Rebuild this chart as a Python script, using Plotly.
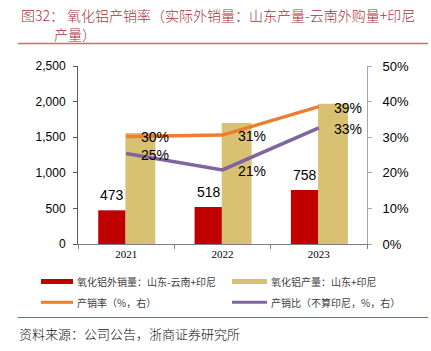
import plotly.graph_objects as go

# ---------------- data ----------------
years = ["2021", "2022", "2023"]
external_sales = [473, 518, 758]          # 氧化铝外销量：山东-云南+印尼
production = [1560, 1700, 1970]           # 氧化铝产量：山东+印尼
sales_rate = [0.302, 0.306, 0.386]        # 产销率（%，右）
sales_ratio = [0.254, 0.208, 0.326]       # 产销比（不算印尼，%，右）
left_ticks = [0, 500, 1000, 1500, 2000, 2500]
right_ticks = [0, 0.1, 0.2, 0.3, 0.4, 0.5]

title_line1 = "图32： 氧化铝产销率（实际外销量：山东产量-云南外购量+印尼"
title_line2 = "产量）"
source_text = "资料来源：公司公告，浙商证券研究所"
legend_names = ["氧化铝外销量：山东-云南+印尼", "氧化铝产量：山东+印尼",
                "产销率（%，右）", "产销比（不算印尼，%，右）"]

# ---------------- layout geometry ----------------
W, H = 431, 351
L, R, T, B = 78, 64, 66, 107
pw = W - L - R
ph = H - T - B


def px(x):
    return (x - L) / pw


def py(y):
    return (H - B - y) / ph


RED = "#C00000"
GOLD = "#D8C172"
ORANGE = "#ED7D31"
PURPLE = "#8064A2"
CJK = "Noto Sans CJK SC"

fig = go.Figure()
fig.add_trace(go.Bar(x=years, y=external_sales, marker=dict(color=RED, line=dict(width=0)),
                     width=0.285, offset=-0.29, showlegend=False, hoverinfo="skip"))
fig.add_trace(go.Bar(x=years, y=production, marker=dict(color=GOLD, line=dict(width=0)),
                     width=0.31, offset=-0.008, showlegend=False, hoverinfo="skip"))
fig.add_trace(go.Scatter(x=years, y=sales_rate, mode="lines", yaxis="y2",
                         line=dict(color=ORANGE, width=3.5), showlegend=False))
fig.add_trace(go.Scatter(x=years, y=sales_ratio, mode="lines", yaxis="y2",
                         line=dict(color=PURPLE, width=3.5), showlegend=False))

annotations = []
# bar value labels (x given as category index)
for i, v in enumerate(external_sales):
    annotations.append(dict(x=i, y=v, xref="x", yref="y", text=f"{v:,}", showarrow=False,
                            xshift=-14, yshift=15, yanchor="middle", xanchor="center",
                            font=dict(family="Liberation Sans", size=14, color="#000")))
# line value labels
for series in (sales_rate, sales_ratio):
    for i, v in enumerate(series):
        annotations.append(dict(x=i, y=v, xref="x", yref="y2", text=f"{v:.0%}", showarrow=False,
                                xshift=13, yshift=-1, yanchor="middle", xanchor="left",
                                font=dict(family="Liberation Sans", size=14, color="#000")))

# title
annotations.append(dict(x=px(19), y=py(15), xref="paper", yref="paper", text=title_line1,
                        showarrow=False, xanchor="left", yanchor="middle",
                        font=dict(family=CJK, size=14, color="#A8323C", weight=300)))
annotations.append(dict(x=px(52), y=py(34), xref="paper", yref="paper", text=title_line2,
                        showarrow=False, xanchor="left", yanchor="middle",
                        font=dict(family=CJK, size=14, color="#A8323C", weight=300)))
# source
annotations.append(dict(x=px(17), y=py(333), xref="paper", yref="paper", text=source_text,
                        showarrow=False, xanchor="left", yanchor="middle",
                        font=dict(family=CJK, size=13, color="#111", weight=300)))

# custom legend
leg_pos = [(76, 281.5), (270, 281.5), (76, 302), (270, 302)]
for (lx, ly), name in zip(leg_pos, legend_names):
    annotations.append(dict(x=px(lx - 1), y=py(ly), xref="paper", yref="paper", text=name,
                            showarrow=False, xanchor="left", yanchor="middle",
                            font=dict(family=CJK, size=10, color="#404040")))

shapes = [
    dict(type="line", xref="paper", yref="paper", x0=px(18), x1=px(428), y0=py(43.5), y1=py(43.5),
         line=dict(color="#D66A6A", width=1.5)),
    dict(type="line", xref="paper", yref="paper", x0=px(18), x1=px(428), y0=py(317.5), y1=py(317.5),
         line=dict(color="#C0504D", width=1)),
    dict(type="rect", xref="paper", yref="paper", x0=px(41), x1=px(73), y0=py(284), y1=py(279),
         fillcolor=RED, line=dict(width=0)),
    dict(type="rect", xref="paper", yref="paper", x0=px(232), x1=px(267), y0=py(284), y1=py(279),
         fillcolor=GOLD, line=dict(width=0)),
    dict(type="line", xref="paper", yref="paper", x0=px(41), x1=px(73), y0=py(302.3), y1=py(302.3),
         line=dict(color=ORANGE, width=3)),
    dict(type="line", xref="paper", yref="paper", x0=px(232), x1=px(267), y0=py(302.3), y1=py(302.3),
         line=dict(color=PURPLE, width=3)),
]

fig.update_layout(
    width=W, height=H,
    margin=dict(l=L, r=R, t=T, b=B, pad=0),
    paper_bgcolor="white", plot_bgcolor="white",
    barmode="overlay",
    showlegend=False,
    font=dict(family=CJK, color="#000"),
    xaxis=dict(type="category", range=[-0.5, 2.5], tickson="boundaries", ticks="outside",
               ticklen=4, tickcolor="#7F7F7F", showline=True, linecolor="#7F7F7F", linewidth=1,
               showgrid=False, zeroline=False,
               tickfont=dict(family="Liberation Serif", size=11, color="#000")),
    yaxis=dict(range=[0, 2500], tickvals=left_ticks, tickformat=",", ticks="outside", ticklen=4,
               tickcolor="#595959", showline=True, linecolor="#595959", linewidth=1,
               showgrid=False, zeroline=False, ticklabelstandoff=5,
               tickfont=dict(family="Liberation Sans", size=12, color="#000")),
    yaxis2=dict(range=[0, 0.5], overlaying="y", side="right", tickvals=right_ticks,
                tickformat=".0%", ticks="outside", ticklen=4, tickcolor="#A6A6A6",
                showline=True, linecolor="#A6A6A6", linewidth=1, showgrid=False, zeroline=False,
                ticklabelstandoff=8,
                tickfont=dict(family="Liberation Sans", size=13, color="#000")),
    annotations=annotations,
    shapes=shapes,
)

fig.write_html("out.html")
